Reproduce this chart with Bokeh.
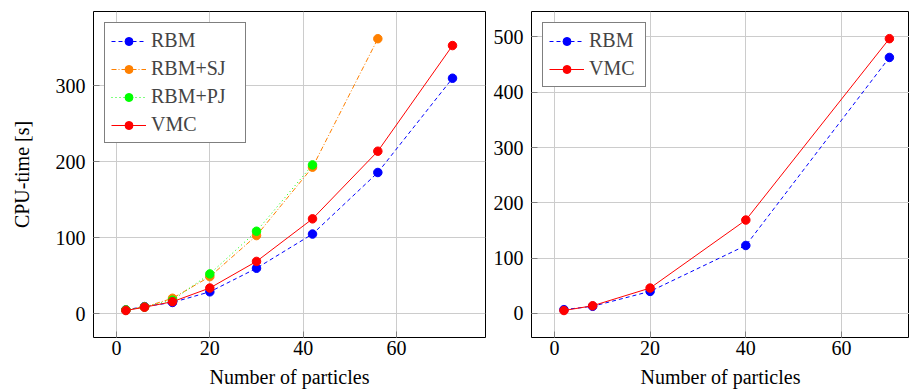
from bokeh.plotting import figure
from bokeh.layouts import row
from bokeh.models import Range1d, FixedTicker, Legend, LegendItem
from bokeh.embed import file_html
from bokeh.resources import INLINE

# ---- data: left panel ----
rbm_x = [2, 6, 12, 20, 30, 42, 56, 72]
rbm_y = [5.3, 9.6, 15, 29, 60, 105, 186, 310]
sj_x = [2, 6, 12, 20, 30, 42, 56]
sj_y = [5, 9, 20.5, 49, 103, 193, 362]
pj_x = [2, 6, 12, 20, 30, 42]
pj_y = [5, 9, 18, 52.6, 108.7, 196]
vmc_x = [2, 6, 12, 20, 30, 42, 56, 72]
vmc_y = [4.4, 8.8, 16, 34, 69, 125, 214, 353]

# ---- data: right panel ----
rbm2_x = [2, 8, 20, 40, 70]
rbm2_y = [7, 13, 40, 123, 463]
vmc2_x = [2, 8, 20, 40, 70]
vmc2_y = [5.4, 14, 46, 169, 497]

x_ticks = [0, 20, 40, 60]
y_ticks_left = [0, 100, 200, 300]
y_ticks_right = [0, 100, 200, 300, 400, 500]

FONT = "'Liberation Serif', 'Times New Roman', serif"
FS = "20px"


def style(p, xt, yt, ylabel):
    p.outline_line_color = "black"
    p.outline_line_width = 1
    p.outline_line_alpha = 1
    p.background_fill_color = "white"
    p.border_fill_color = "white"
    p.xaxis.ticker = FixedTicker(ticks=xt)
    p.yaxis.ticker = FixedTicker(ticks=yt)
    p.xaxis.minor_tick_line_color = None
    p.yaxis.minor_tick_line_color = None
    for ax in (p.xaxis[0], p.yaxis[0]):
        ax.axis_line_color = None
        ax.major_tick_in = 6
        ax.major_tick_out = 0
        ax.major_tick_line_color = "#808080"
        ax.major_label_text_font = FONT
        ax.major_label_text_font_size = FS
        ax.major_label_text_color = "black"
        ax.axis_label_text_font = FONT
        ax.axis_label_text_font_size = FS
        ax.axis_label_text_font_style = "normal"
        ax.axis_label_text_color = "black"
    p.xaxis.axis_label = "Number of particles"
    p.xaxis.major_label_standoff = 3
    p.xaxis.axis_label_standoff = 8
    if ylabel:
        p.yaxis.axis_label = ylabel
        p.yaxis.axis_label_standoff = 20
    p.yaxis.major_label_standoff = 8
    p.xgrid.ticker = FixedTicker(ticks=xt)
    p.ygrid.ticker = FixedTicker(ticks=yt)
    p.grid.grid_line_color = "#cccccc"
    p.grid.grid_line_width = 1


def series(p, x, y, color, dash):
    ln = p.line(x, y, line_color=color, line_width=1, line_dash=dash)
    sc = p.scatter(x, y, size=8.5, marker="circle", fill_color=color, line_color=color)
    return [ln, sc]


def make_legend(p, items, label_width):
    lg = Legend(items=items, location="top_left")
    lg.margin = 11
    lg.padding = 6
    lg.spacing = 5
    lg.glyph_width = 35
    lg.glyph_height = 20
    lg.label_height = 20
    lg.label_width = label_width
    lg.label_standoff = 5
    lg.label_text_font = FONT
    lg.label_text_font_size = FS
    lg.label_text_align = "center"
    lg.border_line_color = "black"
    lg.border_line_width = 1
    lg.background_fill_color = "white"
    lg.background_fill_alpha = 1
    p.add_layout(lg)


# ---- left figure ----
p1 = figure(width=490, height=392, output_backend="svg", toolbar_location=None,
            x_range=Range1d(-4.93, 79.07), y_range=Range1d(-31.1, 397.8),
            min_border_left=93, min_border_right=5, min_border_top=11, min_border_bottom=55)
style(p1, x_ticks, y_ticks_left, "CPU-time [s]")
r1 = series(p1, rbm_x, rbm_y, "#0000ff", "4 3")
r2 = series(p1, sj_x, sj_y, "#ff8000", "5 2 1 2")
r3 = series(p1, pj_x, pj_y, "#00ff00", "1 3")
r4 = series(p1, vmc_x, vmc_y, "#ff0000", "solid")
make_legend(p1, [LegendItem(label="RBM", renderers=r1),
                 LegendItem(label="RBM+SJ", renderers=r2),
                 LegendItem(label="RBM+PJ", renderers=r3),
                 LegendItem(label="VMC", renderers=r4)], 88)

# ---- right figure ----
p2 = figure(width=419, height=392, output_backend="svg", toolbar_location=None,
            x_range=Range1d(-4.78, 74.2), y_range=Range1d(-43.4, 546.1),
            min_border_left=39, min_border_right=0, min_border_top=11, min_border_bottom=55)
style(p2, x_ticks, y_ticks_right, None)
q1 = series(p2, rbm2_x, rbm2_y, "#0000ff", "4 3")
q2 = series(p2, vmc2_x, vmc2_y, "#ff0000", "solid")
make_legend(p2, [LegendItem(label="RBM", renderers=q1),
                 LegendItem(label="VMC", renderers=q2)], 50)

layout = row(p1, p2)
open("out.html", "w").write(file_html(layout, INLINE))
